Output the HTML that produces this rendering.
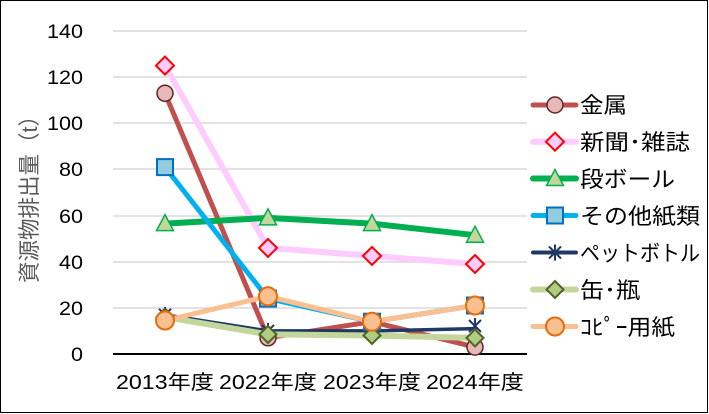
<!DOCTYPE html>
<html><head><meta charset="utf-8"><style>
html,body{margin:0;padding:0;background:#fff;}
svg{display:block;font-family:"Liberation Sans","Noto Sans CJK JP",sans-serif;}
</style></head><body>
<svg width="709" height="414" viewBox="0 0 709 414" xmlns="http://www.w3.org/2000/svg">
<rect x="0.5" y="0.5" width="707" height="412" fill="#fff" stroke="#000" stroke-width="1"/>
<g stroke="#d9d9d9" stroke-width="1.5">
<line x1="113" y1="31" x2="527" y2="31"/>
<line x1="113" y1="77" x2="527" y2="77"/>
<line x1="113" y1="123" x2="527" y2="123"/>
<line x1="113" y1="169" x2="527" y2="169"/>
<line x1="113" y1="216" x2="527" y2="216"/>
<line x1="113" y1="262" x2="527" y2="262"/>
<line x1="113" y1="308" x2="527" y2="308"/>
</g>
<line x1="113" y1="354" x2="527" y2="354" stroke="#000" stroke-width="2"/>
<g font-size="19" fill="#000" text-anchor="end">
<text x="83" y="38" textLength="36" lengthAdjust="spacingAndGlyphs">140</text>
<text x="83" y="84" textLength="36" lengthAdjust="spacingAndGlyphs">120</text>
<text x="83" y="130" textLength="36" lengthAdjust="spacingAndGlyphs">100</text>
<text x="83" y="176" textLength="24" lengthAdjust="spacingAndGlyphs">80</text>
<text x="83" y="223" textLength="24" lengthAdjust="spacingAndGlyphs">60</text>
<text x="83" y="269" textLength="24" lengthAdjust="spacingAndGlyphs">40</text>
<text x="83" y="315" textLength="24" lengthAdjust="spacingAndGlyphs">20</text>
<text x="83" y="361" textLength="12" lengthAdjust="spacingAndGlyphs">0</text>
</g>
<g font-size="20" fill="#000">
<text x="116" y="389" textLength="98" lengthAdjust="spacingAndGlyphs">2013年度</text>
<text x="219" y="389" textLength="98" lengthAdjust="spacingAndGlyphs">2022年度</text>
<text x="323" y="389" textLength="98" lengthAdjust="spacingAndGlyphs">2023年度</text>
<text x="426" y="389" textLength="98" lengthAdjust="spacingAndGlyphs">2024年度</text>
</g>
<text transform="translate(37,194) rotate(-90)" font-size="22" fill="#595959" text-anchor="middle" textLength="178" lengthAdjust="spacingAndGlyphs">資源物排出量（t）</text>

<!-- series lines -->
<g fill="none" stroke-linejoin="round" stroke-linecap="round">
<polyline points="165,93.3 268,337.8 372,321.7 475,347.1" stroke="#C0504D" stroke-width="5"/>
<polyline points="165,65.6 268,247.9 372,255.9 475,264" stroke="#FFCCFF" stroke-width="6"/>
<polyline points="165,223.6 268,217.9 372,223.6 475,235.2" stroke="#00B050" stroke-width="6"/>
<polyline points="165,167.1 268,298.6 372,321.7 475,305.5" stroke="#00B0F0" stroke-width="5"/>
<polyline points="165,314.8 268,330.9 372,330.9 475,328.6" stroke="#1F3864" stroke-width="3.5"/>
<polyline points="165,317.1 268,334.4 372,335.5 475,337.9" stroke="#C3D69B" stroke-width="6"/>
<polyline points="165,320.5 268,296.3 372,321.7 475,305.5" stroke="#FAC090" stroke-width="5"/>
</g>

<defs>
<g id="mCirc"><circle r="8" fill="#E6B9B8" stroke="#632523" stroke-width="1.5"/></g>
<g id="mDia"><polygon points="0,-9 9,0 0,9 -9,0" fill="#FFCCFF" stroke="#FF0000" stroke-width="2"/></g>
<g id="mTri"><polygon points="0,-9 8.5,7 -8.5,7" fill="#C3D69B" stroke="#00B050" stroke-width="1.5"/></g>
<g id="mSq"><rect x="-8" y="-8" width="16" height="16" fill="#93CDDD" stroke="#0070C0" stroke-width="2"/></g>
<g id="mStar" stroke="#1F3864" stroke-width="2"><line x1="-6" y1="-6" x2="6" y2="6"/><line x1="-6" y1="6" x2="6" y2="-6"/><line x1="0" y1="-8" x2="0" y2="8"/></g>
<g id="mOli"><polygon points="0,-8.5 8.5,0 0,8.5 -8.5,0" fill="#B3CC82" stroke="#4F6228" stroke-width="2"/></g>
<g id="mOra"><circle r="9" fill="#FAC090" stroke="#E46C0A" stroke-width="2"/></g>
</defs>

<use href="#mCirc" x="165" y="93.3"/><use href="#mCirc" x="268" y="337.8"/><use href="#mCirc" x="372" y="321.7"/><use href="#mCirc" x="475" y="347.1"/>
<use href="#mDia" x="165" y="65.6"/><use href="#mDia" x="268" y="247.9"/><use href="#mDia" x="372" y="255.9"/><use href="#mDia" x="475" y="264"/>
<use href="#mTri" x="165" y="223.6"/><use href="#mTri" x="268" y="217.9"/><use href="#mTri" x="372" y="223.6"/><use href="#mTri" x="475" y="235.2"/>
<use href="#mSq" x="165" y="167.1"/><use href="#mSq" x="268" y="298.6"/><use href="#mSq" x="372" y="321.7"/><use href="#mSq" x="475" y="305.5"/>
<use href="#mStar" x="165" y="314.8"/><use href="#mStar" x="268" y="330.9"/><use href="#mStar" x="372" y="330.9"/><use href="#mStar" x="475" y="326"/>
<use href="#mOli" x="165" y="317.1"/><use href="#mOli" x="268" y="334.4"/><use href="#mOli" x="372" y="335.5"/><use href="#mOli" x="475" y="337.9"/>
<use href="#mOra" x="165" y="320.5"/><use href="#mOra" x="268" y="296.3"/><use href="#mOra" x="372" y="321.7"/><use href="#mOra" x="475" y="305.5"/>

<!-- legend -->
<g stroke-linecap="round">
<line x1="533" y1="105" x2="576" y2="105" stroke="#C0504D" stroke-width="5"/>
<line x1="533" y1="141.7" x2="576" y2="141.7" stroke="#FFCCFF" stroke-width="6"/>
<line x1="533" y1="178.5" x2="576" y2="178.5" stroke="#00B050" stroke-width="6"/>
<line x1="533" y1="215.5" x2="576" y2="215.5" stroke="#00B0F0" stroke-width="5"/>
<line x1="533" y1="252.5" x2="576" y2="252.5" stroke="#1F3864" stroke-width="4"/>
<line x1="533" y1="289.5" x2="576" y2="289.5" stroke="#C3D69B" stroke-width="6"/>
<line x1="533" y1="326.5" x2="576" y2="326.5" stroke="#FAC090" stroke-width="5"/>
</g>
<use href="#mCirc" x="555" y="105"/>
<use href="#mDia" x="555" y="141.7"/>
<use href="#mTri" x="555" y="178.5"/>
<use href="#mSq" x="555" y="215.5"/>
<use href="#mStar" x="555" y="252.5"/>
<use href="#mOli" x="555" y="289.5"/>
<use href="#mOra" x="555" y="326.5"/>
<g font-size="22" fill="#000">
<text x="580" y="113" textLength="47" lengthAdjust="spacingAndGlyphs">金属</text>
<text x="580" y="150" textLength="110" lengthAdjust="spacingAndGlyphs">新聞･雑誌</text>
<text x="580" y="187" textLength="95" lengthAdjust="spacingAndGlyphs">段ボール</text>
<text x="580" y="224" textLength="120" lengthAdjust="spacingAndGlyphs">その他紙類</text>
<text x="580" y="261" textLength="120" lengthAdjust="spacingAndGlyphs">ペットボトル</text>
<text x="580" y="298" textLength="60" lengthAdjust="spacingAndGlyphs">缶･瓶</text>
<text x="580" y="335" textLength="95" lengthAdjust="spacingAndGlyphs">ｺﾋﾟｰ用紙</text>
</g>
</svg>
</body></html>
